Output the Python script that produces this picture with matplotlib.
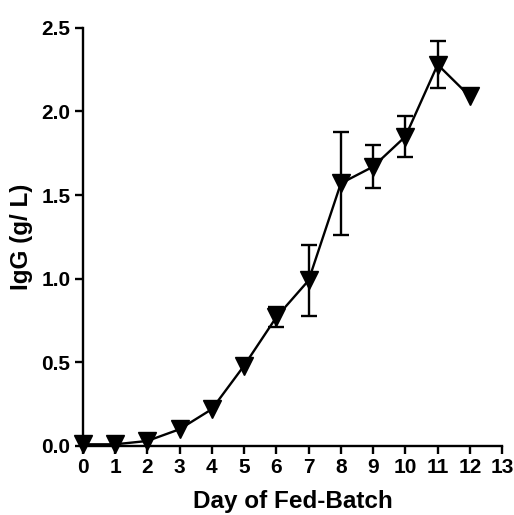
import matplotlib.pyplot as plt

plt.rcParams['font.family'] = ['Liberation Sans', 'DejaVu Sans']
plt.rcParams['font.weight'] = 'bold'

# data
days = [0, 1, 2, 3, 4, 5, 6, 7, 8, 9, 10, 11, 12]
igg = [0.01, 0.01, 0.03, 0.10, 0.22, 0.48, 0.77, 0.99, 1.57, 1.67, 1.85, 2.28, 2.09]
igg_err = [0, 0, 0, 0, 0, 0, 0.06, 0.21, 0.31, 0.13, 0.12, 0.14, 0]


def main():
    fig = plt.figure(figsize=(5.14, 5.15), dpi=100)
    ax = fig.add_axes([0.161, 0.134, 0.816, 0.812])
    # only draw error bars where there is an error
    ex = [d for d, e in zip(days, igg_err) if e > 0]
    ey = [v for v, e in zip(igg, igg_err) if e > 0]
    ee = [e for e in igg_err if e > 0]
    ax.errorbar(ex, ey, yerr=ee, fmt='none', ecolor='black',
                elinewidth=1.7, capsize=6, capthick=1.7)
    ax.plot(days, igg, color='black', marker='v', markersize=13.5,
            linewidth=1.7, clip_on=False, zorder=3)
    ax.set_xlim(0, 13)
    ax.set_ylim(0, 2.5)
    ax.set_xticks(range(0, 14))
    ax.set_yticks([0, 0.5, 1.0, 1.5, 2.0, 2.5])
    ax.set_yticklabels(['0.0', '0.5', '1.0', '1.5', '2.0', '2.5'])
    for s in ['top', 'right']:
        ax.spines[s].set_visible(False)
    for s in ['left', 'bottom']:
        ax.spines[s].set_linewidth(1.7)
    ax.tick_params(width=1.7, length=6, labelsize=15, direction='out', pad=3)
    ax.set_xlabel('Day of Fed-Batch', fontsize=17.5, fontweight='bold', labelpad=9)
    ax.set_ylabel('IgG (g/ L)', fontsize=17.5, fontweight='bold', labelpad=6)
    fig.savefig('out.png', dpi=100)


if __name__ == "__main__":
    main()
